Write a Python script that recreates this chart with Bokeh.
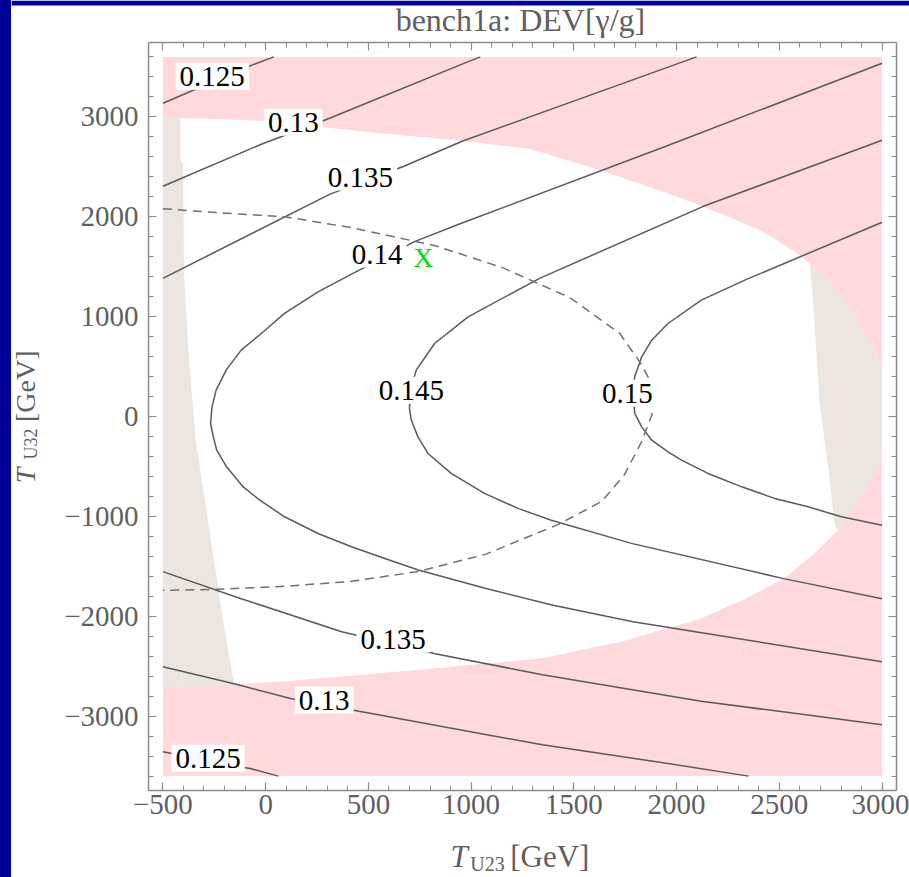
import numpy as np
from bokeh.plotting import figure
from bokeh.models import Range1d, LinearAxis, FixedTicker, Spacer, ColumnDataSource
from bokeh.layouts import row
from bokeh.core.properties import value
from bokeh.embed import file_html
from bokeh.resources import INLINE

# ---------------- data ----------------
scan_x = [-500, 3000]
scan_y = [-3600, 3600]
box_x = [-570, 3070]
box_y = [-3744, 3744]

allowed_x = [-500, -280, -21, 306, 531, 956, 1283, 1607, 1935, 2095, 2258, 2421, 2584,
             2648, 2740, 2810, 2870, 2915, 2965, 3000, 3000, 2955, 2899, 2850, 2786, 2660,
             2521, 2330, 2115, 1740, 1347, 697, 98, -153, -500]
allowed_y = [2990, 2980, 2960, 2890, 2840, 2760, 2680, 2480, 2250, 2130, 1995, 1850, 1640,
             1532, 1350, 1165, 1000, 831, 650, 480, -404, -590, -770, -950, -1138, -1390,
             -1623, -1830, -2024, -2250, -2420, -2545, -2650, -2680, -2710]

beige_left_x = [-500, -415, -415, -402, -397, -373, -339, -280, -207, -153, -500]
beige_left_y = [2990, 2990, 2550, 2530, 1420, 580, -250, -1050, -2050, -2690, -2710]

beige_right_x = [2648, 2664, 2695, 2737, 2770, 2786, 2850, 2899, 2955, 3000, 3000,
                 2965, 2915, 2870, 2810, 2740, 2648]
beige_right_y = [1532, 1165, 150, -504, -1100, -1138, -950, -770, -590, -404, 480,
                 650, 831, 1000, 1165, 1350, 1532]

c125_up_x = [-500, -55, 40]
c125_up_y = [3136, 3527, 3600]
c125_lo_x = [-500, -70, 62]
c125_lo_y = [-3357, -3527, -3600]
c130_up_x = [-500, -21, 311, 956, 1045]
c130_up_y = [2305, 2725, 2986, 3527, 3600]
c130_lo_x = [-500, -153, 126, 468, 1347, 1885, 2350]
c130_lo_y = [-2505, -2675, -2826, -2956, -3287, -3450, -3600]
c135_up_x = [-500, 311, 673, 956, 2097]
c135_up_y = [1383, 2224, 2505, 2755, 3600]
c135_lo_x = [-500, -119, 370, 825, 1347, 2120, 3000]
c135_lo_y = [-1553, -1824, -2154, -2375, -2585, -2850, -3086]
c140_x = [3000, 1935, 956, 727, 425, 255, 92, -21, -119, -192, -241, -261, -268, -255,
          -238, -190, -109, -28, 92, 255, 418, 580, 743, 1068, 1393, 1788, 3000]
c140_y = [3537, 2695, 1937, 1753, 1432, 1248, 1032, 831, 664, 464, 264, 97, -70, -200,
          -337, -504, -705, -838, -1004, -1171, -1304, -1421, -1537, -1720, -1887, -2054, -2455]
c145_x = [3000, 2130, 1333, 985, 822, 733, 705, 700, 709, 741, 790, 903, 1065, 1228,
          1390, 1780, 2521, 3000]
c145_y = [2765, 2104, 1383, 998, 731, 464, 270, 81, -36, -204, -370, -570, -770, -920,
          -1038, -1270, -1623, -1824]
c150_x = [3000, 2340, 2120, 1958, 1879, 1830, 1796, 1788, 1796, 1830, 1879, 1958, 2024,
          2153, 2317, 2477, 2640, 2802, 3000]
c150_y = [1944, 1373, 1165, 931, 764, 597, 397, 215, 31, -104, -237, -354, -437,
          -570, -704, -820, -904, -1004, -1088]

dashed_x = [-500, -231, 91, 419, 825, 1153, 1480, 1724, 1826, 1865, 1885, 1880, 1830, 1747,
            1636, 1425, 1069, 746, 419, 91, -231, -500]
dashed_y = [2080, 2040, 2000, 1890, 1710, 1490, 1190, 830, 530, 380, 180, 20, -250, -580,
            -850, -1080, -1380, -1550, -1650, -1700, -1730, -1740]

label_text = ["0.125", "0.13", "0.135", "0.14", "0.145", "0.15", "0.135", "0.13", "0.125"]
label_x = [-260, 135, 461, 543, 709, 1760, 621, 285, -280]
label_y = [3407, 2946, 2397, 1626, 264, 234, -2228, -2839, -3420]

bench_x = [767]
bench_y = [1595]

x_major = [-500, 0, 500, 1000, 1500, 2000, 2500, 3000]
x_major_labels = ["\u2212500", "0", "500", "1000", "1500", "2000", "2500", "3000"]
y_major = [-3000, -2000, -1000, 0, 1000, 2000, 3000]
y_major_labels = ["\u22123000", "\u22122000", "\u22121000", "0", "1000", "2000", "3000"]
x_minor = list(range(-500, 3001, 100))
y_minor = list(range(-3600, 3601, 200))

title_text = "bench1a: DEV[\u03b3/g]"
xlabel_parts = ["T", "U23", "[GeV]"]
ylabel_parts = ["T", "U32", "[GeV]"]

# ---------------- styling ----------------
BLUE = "#000099"
PINK = "#ffd9db"
BEIGE = "#ede6e0"
GRAY = "#5f5f5f"
AXIS_GRAY = "#8c8c8c"
SERIF = "Liberation Serif"

X0, X1 = -1236.7, 3133.3
Y0, Y1 = -4614.9, 4164.45
PX_Y = (Y1 - Y0) / 877.0   # data units per screen pixel (vertical)

p = figure(width=898, height=877, output_backend="svg", toolbar_location=None,
           x_range=Range1d(X0, X1), y_range=Range1d(Y0, Y1),
           min_border=0, x_axis_type=None, y_axis_type=None)
p.grid.visible = False
p.outline_line_color = None
p.background_fill_color = "white"
p.border_fill_color = "white"

# blue slide strip along the top of the page
p.quad(left=[X0], right=[X1], bottom=[Y1 - 5 * PX_Y], top=[Y1],
       fill_color=BLUE, line_color=None)


def make_axis(ticks, minor, labels, show_labels, standoff, loc, bounds):
    ax = LinearAxis(fixed_location=loc, bounds=bounds)
    ax.ticker = FixedTicker(ticks=ticks, minor_ticks=minor)
    if show_labels:
        ax.major_label_overrides = dict(zip(ticks, labels))
        ax.major_label_text_font_size = "29px"
    else:
        ax.major_label_overrides = {t: "" for t in ticks}
        ax.major_label_text_font_size = "0px"
    ax.major_label_standoff = standoff
    ax.major_tick_in = 8
    ax.major_tick_out = 0
    ax.minor_tick_in = 5
    ax.minor_tick_out = 0
    ax.axis_line_color = AXIS_GRAY
    ax.axis_line_width = 1.5
    ax.major_tick_line_color = AXIS_GRAY
    ax.minor_tick_line_color = AXIS_GRAY
    ax.major_tick_line_width = 1.2
    ax.minor_tick_line_width = 1.0
    ax.major_label_text_font = SERIF
    ax.major_label_text_color = GRAY
    return ax


xb = make_axis(x_major, x_minor, x_major_labels, True, 4, box_y[0], tuple(box_x))
xt = make_axis(x_major, x_minor, x_major_labels, False, 0, box_y[1], tuple(box_x))
yl = make_axis(y_major, y_minor, y_major_labels, True, 10, box_x[0], tuple(box_y))
yr = make_axis(y_major, y_minor, y_major_labels, False, 0, box_x[1], tuple(box_y))
yl.major_label_orientation = "horizontal"
p.add_layout(xb, "below")
p.add_layout(xt, "above")
p.add_layout(yl, "left")
p.add_layout(yr, "right")

# regions
p.quad(left=[scan_x[0]], right=[scan_x[1]], bottom=[scan_y[0]], top=[scan_y[1]],
       fill_color=PINK, line_color=None)
p.patch(allowed_x, allowed_y, fill_color="white", line_color=None)
p.patch(beige_left_x, beige_left_y, fill_color=BEIGE, line_color=None)
p.patch(beige_right_x, beige_right_y, fill_color=BEIGE, line_color=None)

# contours
xs = [c125_up_x, c125_lo_x, c130_up_x, c130_lo_x, c135_up_x, c135_lo_x, c140_x, c145_x, c150_x]
ys = [c125_up_y, c125_lo_y, c130_up_y, c130_lo_y, c135_up_y, c135_lo_y, c140_y, c145_y, c150_y]
p.multi_line(xs, ys, line_color="#5a5a5a", line_width=1.5, line_join="round")
p.line(dashed_x, dashed_y, line_color="#707070", line_width=1.5, line_dash="9 6")

# contour labels
src = ColumnDataSource(dict(x=label_x, y=label_y, t=label_text))
p.text(x="x", y="y", text="t", source=src, text_font=value(SERIF), text_font_size="29px",
       text_color="black", text_align="center", text_baseline="middle",
       background_fill_color="white", padding=4)

# benchmark point
p.text(x=bench_x, y=bench_y, text=["X"], text_font=value(SERIF), text_font_size="28px",
       text_color="#00e000", text_align="center", text_baseline="middle")

# title
p.text(x=[1240], y=[Y1 - 19.5 * PX_Y], text=[title_text], text_font=value(SERIF),
       text_font_size="32px", text_color=GRAY, text_align="center", text_baseline="middle")

# x axis label: italic T, subscript U23, [GeV]
p.text(x=[900], y=[-4406], text=[xlabel_parts[0]], text_font=value(SERIF), text_font_style="italic",
       text_font_size="31px", text_color=GRAY, text_align="left", text_baseline="middle")
p.text(x=[996], y=[-4480], text=[xlabel_parts[1]], text_font=value(SERIF),
       text_font_size="20px", text_color=GRAY, text_align="left", text_baseline="middle")
p.text(x=[1190], y=[-4406], text=[xlabel_parts[2]], text_font=value(SERIF),
       text_font_size="31px", text_color=GRAY, text_align="left", text_baseline="middle")

# y axis label (rotated)
ang = np.pi / 2
p.text(x=[-1168], y=[-667], text=[ylabel_parts[0]], text_font=value(SERIF), text_font_style="italic",
       angle=ang, text_font_size="28px", text_color=GRAY, text_align="left", text_baseline="middle")
p.text(x=[-1141], y=[-430], text=[ylabel_parts[1]], text_font=value(SERIF), angle=ang,
       text_font_size="18px", text_color=GRAY, text_align="left", text_baseline="middle")
p.text(x=[-1168], y=[-55], text=[ylabel_parts[2]], text_font=value(SERIF), angle=ang,
       text_font_size="28px", text_color=GRAY, text_align="left", text_baseline="middle")

left_strip = Spacer(width=11, height=877, styles={"background-color": BLUE})
layout = row(left_strip, p)

open("out.html", "w").write(file_html(layout, INLINE))
